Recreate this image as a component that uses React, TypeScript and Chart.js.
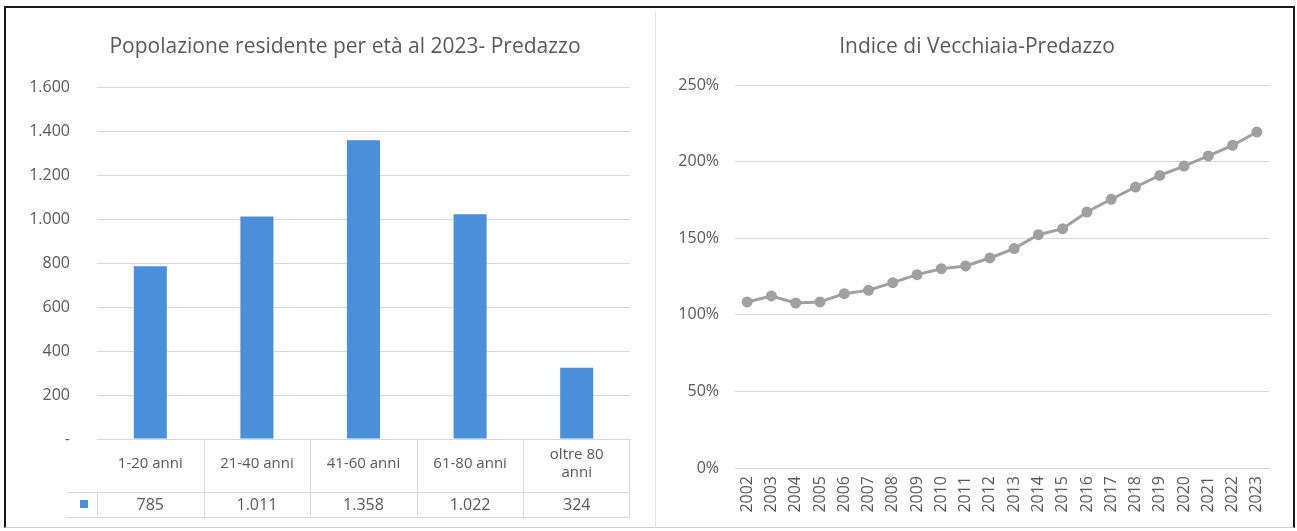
import React, { useEffect, useRef } from "react";
import { Chart, registerables } from "chart.js";

Chart.register(...registerables);

// ---------- DATA ----------
const ageCategories: (string | string[])[] = [
  "1-20 anni",
  "21-40 anni",
  "41-60 anni",
  "61-80 anni",
  ["oltre 80", "anni"],
];
const residents = [785, 1011, 1358, 1022, 324];
const popMax = 1600;
const popStep = 200;

const years = [
  "2002", "2003", "2004", "2005", "2006", "2007", "2008", "2009", "2010", "2011", "2012",
  "2013", "2014", "2015", "2016", "2017", "2018", "2019", "2020", "2021", "2022", "2023",
];
const oldAgeIndex = [
  108.4, 112.3, 107.7, 108.4, 113.8, 116, 121, 126.2, 130.1, 131.9, 137.1,
  143.2, 152.3, 156.2, 167.1, 175.4, 183.4, 191, 197.1, 203.7, 210.6, 219.3,
];
const indexMax = 250;
const indexStep = 50;

const leftTitle = "Popolazione residente per età al 2023- Predazzo";
const rightTitle = "Indice di Vecchiaia-Predazzo";

// ---------- STYLE ----------
const FONT = "'Open Sans', 'DejaVu Sans', sans-serif";
const TEXT = "#595959";
const GRID = "#D9D9D9";
const BAR = "#4A8FD9";
const LINE = "#A0A0A0";

const fmtIt = (v: number) =>
  v === 0 ? "-" : String(v).replace(/\B(?=(\d{3})+(?!\d))/g, ".");

function BarChart() {
  const ref = useRef<HTMLCanvasElement | null>(null);
  useEffect(() => {
    if (!ref.current) return;
    const tablePlugin = {
      id: "tablePlugin",
      afterDraw(chart: any) {
        const { ctx, scales, chartArea } = chart;
        const xs = scales.x;
        ctx.save();
        // title
        ctx.fillStyle = TEXT;
        ctx.font = `21px ${FONT}`;
        ctx.textAlign = "center";
        ctx.textBaseline = "middle";
        ctx.fillText(leftTitle, 336, 36);

        const rowTop = chartArea.bottom;
        const rowMid = xs.bottom;
        const rowBot = rowMid + 25;
        const tableLeft = 58;
        ctx.strokeStyle = GRID;
        ctx.lineWidth = 1;
        ctx.beginPath();
        ctx.moveTo(tableLeft, rowMid + 0.5);
        ctx.lineTo(chartArea.right, rowMid + 0.5);
        ctx.moveTo(tableLeft, rowBot + 0.5);
        ctx.lineTo(chartArea.right, rowBot + 0.5);
        ctx.moveTo(chartArea.left + 0.5, rowMid);
        ctx.lineTo(chartArea.left + 0.5, rowBot);
        for (let i = 0; i < residents.length - 1; i++) {
          const bx = Math.round((xs.getPixelForValue(i) + xs.getPixelForValue(i + 1)) / 2) + 0.5;
          ctx.moveTo(bx, rowTop);
          ctx.lineTo(bx, rowBot);
        }
        ctx.moveTo(chartArea.right - 0.5, rowTop);
        ctx.lineTo(chartArea.right - 0.5, rowBot);
        ctx.stroke();

        // legend key
        ctx.fillStyle = BAR;
        ctx.fillRect(71, rowMid + 8, 8, 8);

        // values
        ctx.fillStyle = TEXT;
        ctx.font = `16px ${FONT}`;
        residents.forEach((v, i) => {
          ctx.fillText(fmtIt(v), xs.getPixelForValue(i), rowMid + 13);
        });
        ctx.restore();
      },
    };

    const chart = new Chart(ref.current, {
      type: "bar",
      data: {
        labels: ageCategories as any,
        datasets: [
          {
            data: residents,
            backgroundColor: BAR,
            barPercentage: 0.31,
            categoryPercentage: 1,
          },
        ],
      },
      options: {
        animation: false,
        responsive: false,
        maintainAspectRatio: false,
        layout: { padding: { left: 0, top: 76, right: 25, bottom: 36 } },
        plugins: { legend: { display: false }, title: { display: false }, tooltip: { enabled: false } },
        scales: {
          x: {
            grid: { display: false, drawTicks: false },
            border: { color: GRID },
            afterFit: (s: any) => {
              s.height = 53;
            },
            ticks: {
              color: TEXT,
              font: { family: FONT, size: 15 },
              padding: 16,
              maxRotation: 0,
              minRotation: 0,
              crossAlign: "center",
              autoSkip: false,
            },
          },
          y: {
            min: 0,
            max: popMax,
            grid: { color: GRID, drawTicks: false },
            border: { display: false },
            afterFit: (s: any) => {
              s.width = 88;
            },
            ticks: {
              stepSize: popStep,
              color: TEXT,
              font: { family: FONT, size: 16 },
              padding: 27,
              callback: (v: any) => fmtIt(Number(v)),
            },
          },
        },
      },
      plugins: [tablePlugin],
    });
    return () => chart.destroy();
  }, []);
  return <canvas ref={ref} width={646} height={517} style={{ position: "absolute", left: 3, top: 3 }} />;
}

function LineChart() {
  const ref = useRef<HTMLCanvasElement | null>(null);
  useEffect(() => {
    if (!ref.current) return;
    const titlePlugin = {
      id: "titlePlugin",
      afterDraw(chart: any) {
        const { ctx } = chart;
        ctx.save();
        ctx.fillStyle = TEXT;
        ctx.font = `21px ${FONT}`;
        ctx.textAlign = "center";
        ctx.textBaseline = "middle";
        ctx.fillText(rightTitle, chart.width / 2 + 1, 36);
        ctx.restore();
      },
    };
    const chart = new Chart(ref.current, {
      type: "line",
      data: {
        labels: years,
        datasets: [
          {
            data: oldAgeIndex,
            borderColor: LINE,
            backgroundColor: LINE,
            borderWidth: 3,
            pointRadius: 4,
            pointBackgroundColor: LINE,
            pointBorderColor: LINE,
            tension: 0,
          },
        ],
      },
      options: {
        animation: false,
        responsive: false,
        maintainAspectRatio: false,
        layout: { padding: { left: 0, top: 74, right: 25, bottom: 0 } },
        plugins: { legend: { display: false }, title: { display: false }, tooltip: { enabled: false } },
        scales: {
          x: {
            offset: true,
            grid: { display: false, drawTicks: false },
            border: { color: GRID },
            afterFit: (s: any) => {
              s.height = 60;
            },
            ticks: {
              color: TEXT,
              font: { family: FONT, size: 16 },
              padding: 8,
              maxRotation: 90,
              minRotation: 90,
              autoSkip: false,
            },
          },
          y: {
            min: 0,
            max: indexMax,
            grid: { color: GRID, drawTicks: false },
            border: { display: false },
            afterFit: (s: any) => {
              s.width = 77;
            },
            ticks: {
              stepSize: indexStep,
              color: TEXT,
              font: { family: FONT, size: 16 },
              padding: 16,
              callback: (v: any) => `${v}%`,
            },
          },
        },
      },
      plugins: [titlePlugin],
    });
    return () => chart.destroy();
  }, []);
  return <canvas ref={ref} width={636} height={517} style={{ position: "absolute", left: 652, top: 3 }} />;
}

export default function App() {
  useEffect(() => {
    document.body.style.margin = "0";
  }, []);
  return (
    <div
      style={{
        position: "fixed",
        left: 0,
        top: 0,
        width: 1297,
        height: 531,
        background: "#fff",
      }}
    >
      <div
        style={{
          position: "absolute",
          left: 4,
          top: 6,
          width: 1291,
          height: 522,
          boxSizing: "border-box",
          borderTop: "2px solid #1a1a1a",
          borderLeft: "2px solid #1a1a1a",
          borderRight: "2px solid #1a1a1a",
          borderBottom: "1px solid #cfcfcf",
          background: "#fff",
        }}
      >
        <BarChart />
        <div
          style={{
            position: "absolute",
            left: 649,
            top: 3,
            width: 1,
            height: 517,
            background: "#e4e4e4",
          }}
        />
        <LineChart />
      </div>
    </div>
  );
}
